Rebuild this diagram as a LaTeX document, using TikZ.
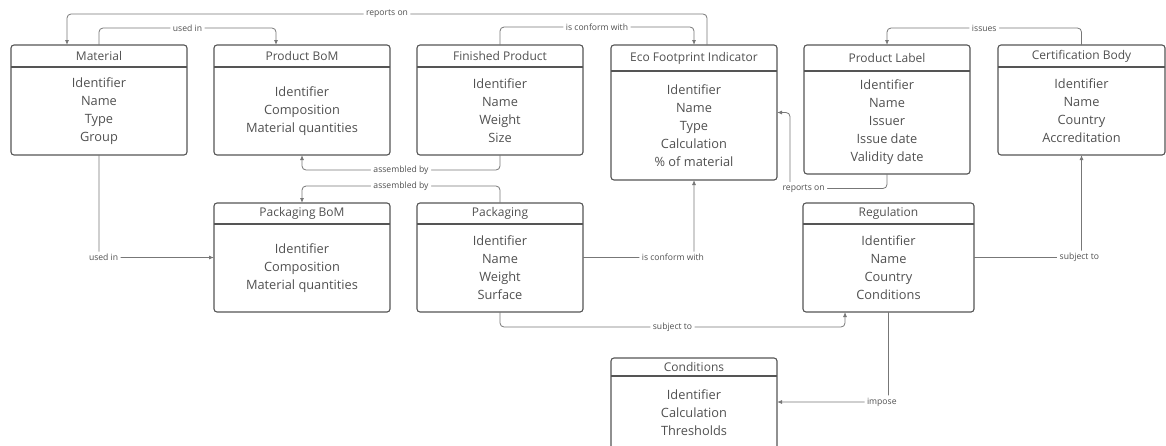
\documentclass[tikz,border=0pt]{standalone}
\usepackage{fontspec}
\setmainfont{Open Sans}
\usetikzlibrary{arrows.meta,calc}
\definecolor{txt}{HTML}{505050}
\definecolor{bline}{HTML}{555555}
\definecolor{cline}{HTML}{777777}
\tikzset{
 ebox/.style={draw=bline, line width=1.1pt, rounded corners=3pt, inner sep=0pt, outer sep=0pt},
 hline/.style={draw=bline, line width=1.1pt},
 etitle/.style={text=txt, font=\fontsize{12}{14}\selectfont, inner sep=0pt},
 ebody/.style={text=txt, font=\fontsize{12.8}{18}\selectfont, align=center, inner sep=0pt},
 conn/.style={draw=cline, line width=0.8pt, rounded corners=4pt, -{Latex[length=5pt,width=4pt]}},
 lbl/.style={fill=white, text=txt, font=\fontsize{8.6}{10}\selectfont, inner sep=2.5pt},
}
% #1 name, #2 centre x, #3 top y, #4 width, #5 height, #6 header height, #7 title, #8 body
\newcommand\entity[8]{%
 \node[ebox, minimum width=#4pt, minimum height=#5pt, anchor=north] (#1) at (#2,#3) {};
 \draw[hline] ([yshift=-#6pt]#1.north west) -- ([yshift=-#6pt]#1.north east);
 \node[etitle] (#1-t) at ($(#1.north)!0.5!([yshift=-#6pt]#1.north)$) {#7};
 \node[ebody] (#1-b) at ($(#1.south)!0.5!([yshift=-#6pt]#1.north)$) {#8};
}
\begin{document}
\begin{tikzpicture}[x=1pt,y=-1pt]
\useasboundingbox (0,0) rectangle (1166,445);
\clip (0,0) rectangle (1166,445);

\entity{mat}{99}{45}{176}{110}{22}{Material}{Identifier\\Name\\Type\\Group}
\entity{pbom}{302}{45}{176}{110}{22}{Product BoM}{Identifier\\Composition\\Material quantities}
\entity{fin}{500}{45}{166}{110}{22}{Finished Product}{Identifier\\Name\\Weight\\Size}
\entity{eco}{694}{45}{166}{135}{26}{Eco Footprint Indicator}{Identifier\\Name\\Type\\Calculation\\\% of material}
\entity{label}{887}{45}{166}{129}{26}{Product Label}{Identifier\\Name\\Issuer\\Issue date\\Validity date}
\entity{cert}{1081.5}{45}{167}{110}{22}{Certification Body}{Identifier\\Name\\Country\\Accreditation}
\entity{pbag}{302}{203}{176}{109}{21}{Packaging BoM}{Identifier\\Composition\\Material quantities}
\entity{pack}{500}{203}{166}{109}{21}{Packaging}{Identifier\\Name\\Weight\\Surface}
\entity{reg}{888.5}{203}{171}{109}{21}{Regulation}{Identifier\\Name\\Country\\Conditions}
\entity{cond}{694}{358}{166}{92}{18}{Conditions}{Identifier\\Calculation\\Thresholds}

% connectors
\draw[conn] ([xshift=13pt]eco.north) |- node[lbl,pos=0.75]{reports on} ([xshift=56pt,yshift=31pt]mat.north west) -- ([xshift=56pt]mat.north west);
\draw[conn] (mat.north) |- node[lbl,pos=0.75]{used in} ([xshift=62pt,yshift=17pt]pbom.north west) -- ([xshift=62pt]pbom.north west);
\draw[conn] (fin.north) |- node[lbl,pos=0.75]{is conform with} ([yshift=18pt]eco.north) -- (eco.north);
\draw[conn] (cert.north) |- node[lbl,pos=0.75]{issues} ([yshift=17pt]label.north) -- (label.north);
\draw[conn] (fin.south) |- node[lbl,pos=0.75]{assembled by} ([yshift=-15pt]pbom.south) -- (pbom.south);
\draw[conn] (pack.north) |- node[lbl,pos=0.75]{assembled by} ([yshift=17pt]pbag.north) -- (pbag.north);
\draw[conn] (mat.south) |- node[lbl,pos=0.52]{used in} (pbag.west);
\draw[conn] (pack.east) -| node[lbl,pos=0.405]{is conform with} (eco.south);
\draw[conn] (label.south) |- node[lbl,pos=0.93]{reports on} ([xshift=13pt,yshift=-76pt]eco.east) |- (eco.east);
\draw[conn] (pack.south) |- node[lbl,pos=0.75]{subject to} ([xshift=42pt,yshift=-15pt]reg.south west) -- ([xshift=42pt]reg.south west);
\draw[conn] (reg.east) -| node[lbl,pos=0.49]{subject to} (cert.south);
\draw[conn] (reg.south) |- node[lbl,pos=0.53]{impose} ([yshift=-44pt]cond.north east);
\end{tikzpicture}
\end{document}
